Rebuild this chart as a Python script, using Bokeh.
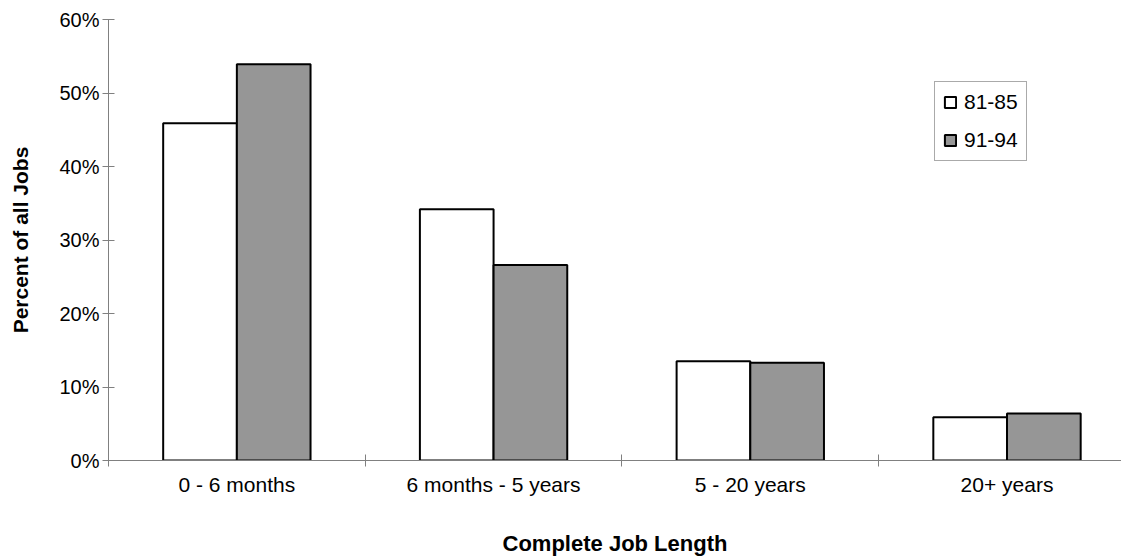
from bokeh.plotting import figure
from bokeh.models import Range1d, FixedTicker, Legend, LegendItem, ColumnDataSource, NumeralTickFormatter
from bokeh.embed import file_html
from bokeh.resources import INLINE

categories = ["0 - 6 months", "6 months - 5 years", "5 - 20 years", "20+ years"]
series_names = ["81-85", "91-94"]
values_81_85 = [0.459, 0.342, 0.135, 0.059]
values_91_94 = [0.539, 0.266, 0.133, 0.064]
y_ticks = [0.0, 0.1, 0.2, 0.3, 0.4, 0.5, 0.6]
x_title = "Complete Job Length"
y_title = "Percent of all Jobs"

FONT = "Liberation Sans"
AXIS_GREY = "#808080"
BAR_W = 0.287

centers = [i + 0.5 for i in range(len(categories))]

p = figure(frame_width=1013, frame_height=441, output_backend="svg", toolbar_location=None,
           x_range=Range1d(0, 3.946), y_range=Range1d(0, 0.6),
           min_border_left=108, min_border_top=19, min_border_right=0, min_border_bottom=0)
p.outline_line_color = None
p.xgrid.visible = False
p.ygrid.visible = False
p.background_fill_color = "white"
p.border_fill_color = "white"

src1 = ColumnDataSource(dict(x=[c - BAR_W / 2 for c in centers], top=values_81_85))
src2 = ColumnDataSource(dict(x=[c + BAR_W / 2 for c in centers], top=values_91_94))
r1 = p.vbar(x="x", top="top", width=BAR_W, bottom=0, source=src1,
            fill_color="white", line_color="black", line_width=2)
r2 = p.vbar(x="x", top="top", width=BAR_W, bottom=0, source=src2,
            fill_color="#969696", line_color="black", line_width=2)

# x axis
xa = p.xaxis[0]
xa.ticker = FixedTicker(ticks=centers, minor_ticks=[0, 1, 2, 3, 4])
xa.major_label_overrides = {c: lab for c, lab in zip(centers, categories)}
xa.major_tick_in = 0
xa.major_tick_out = 0
xa.minor_tick_in = 6
xa.minor_tick_out = 6
xa.minor_tick_line_color = AXIS_GREY
xa.axis_line_color = AXIS_GREY
xa.major_label_text_font = FONT
xa.major_label_text_font_size = "21px"
xa.major_label_text_color = "black"
xa.major_label_standoff = 6
xa.axis_label = x_title
xa.axis_label_text_font = FONT
xa.axis_label_text_font_size = "22px"
xa.axis_label_text_font_style = "bold"
xa.axis_label_text_color = "black"
xa.axis_label_standoff = 32

# y axis
ya = p.yaxis[0]
ya.ticker = FixedTicker(ticks=y_ticks, minor_ticks=[])
ya.formatter = NumeralTickFormatter(format="0%")
ya.major_tick_in = 6
ya.major_tick_out = 6
ya.major_tick_line_color = AXIS_GREY
ya.axis_line_color = AXIS_GREY
ya.major_label_text_font = FONT
ya.major_label_text_font_size = "20px"
ya.major_label_text_color = "black"
ya.major_label_standoff = 3
ya.axis_label = y_title
ya.axis_label_text_font = FONT
ya.axis_label_text_font_size = "21px"
ya.axis_label_text_font_style = "bold"
ya.axis_label_text_color = "black"
ya.axis_label_standoff = 24

legend = Legend(items=[LegendItem(label=series_names[0], renderers=[r1]),
                       LegendItem(label=series_names[1], renderers=[r2])],
                location=(826, 299))
legend.border_line_color = "#555555"
legend.border_line_width = 1
legend.background_fill_color = "white"
legend.background_fill_alpha = 1
legend.label_text_font = FONT
legend.label_text_font_size = "21px"
legend.label_text_color = "black"
legend.glyph_width = 14
legend.glyph_height = 14
legend.label_standoff = 7
legend.padding = 8
legend.spacing = 14
legend.margin = 0
p.add_layout(legend, "center")

open("out.html", "w").write(file_html(p, INLINE))
